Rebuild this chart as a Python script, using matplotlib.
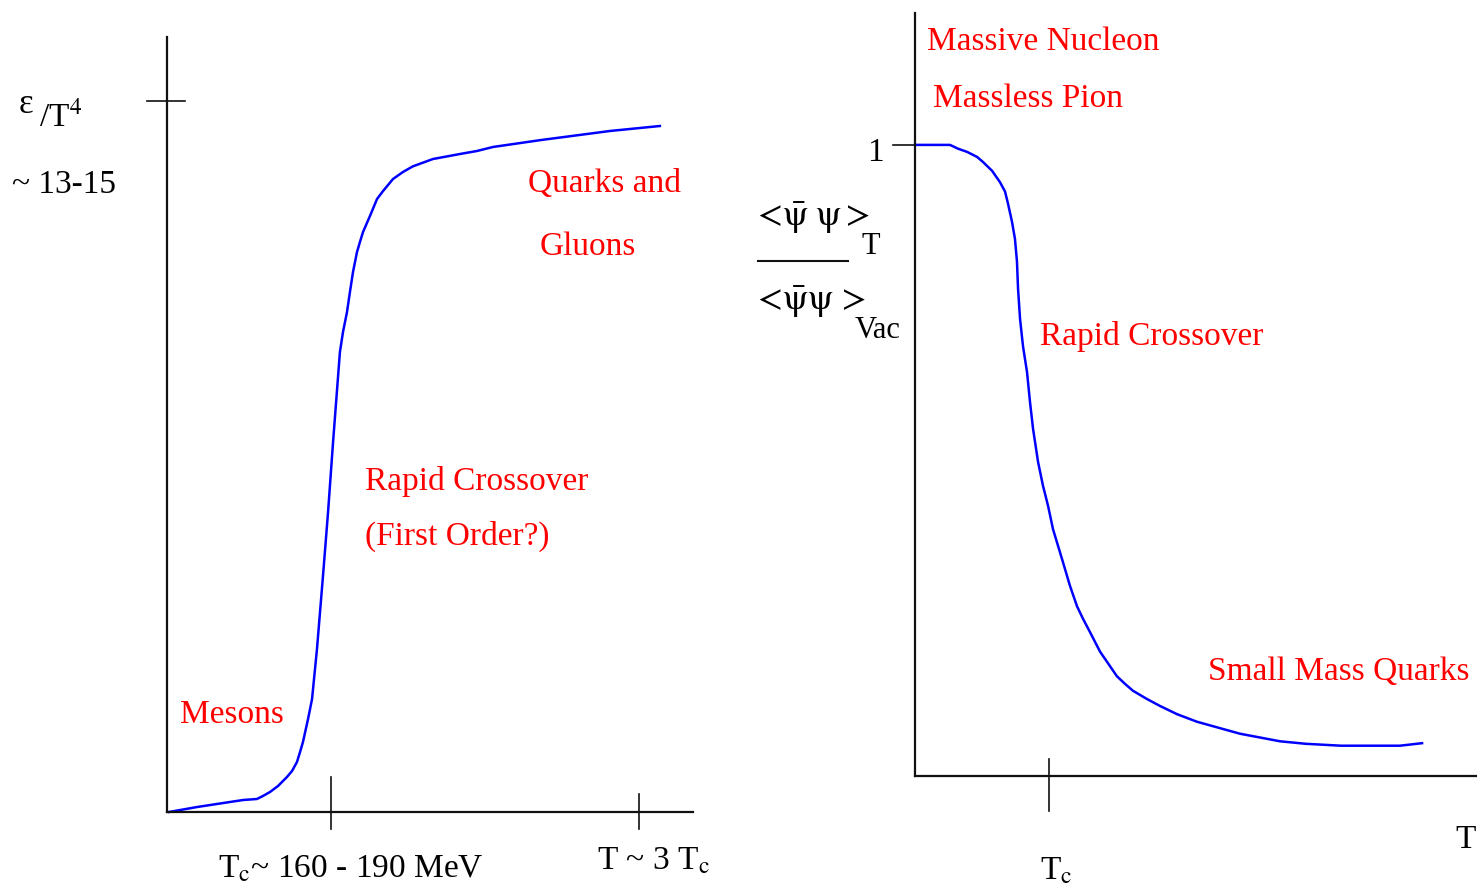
import numpy as np
import matplotlib
matplotlib.use("Agg")
import matplotlib.pyplot as plt

plt.rcParams['font.family'] = ['Liberation Serif', 'DejaVu Serif']
plt.rcParams['mathtext.fontset'] = 'stix'

# left panel: energy density eps/T^4 against T/Tc
left_T = [-0.052, 0.130, 0.344, 0.429, 0.519, 0.558, 0.604, 0.656, 0.714, 0.747,
          0.779, 0.799, 0.818, 0.851, 0.877, 0.909, 0.948, 0.981, 1.013,
          1.058, 1.078, 1.104, 1.123, 1.143, 1.169, 1.188, 1.208, 1.253, 1.299,
          1.338, 1.403, 1.468, 1.532, 1.662, 1.838, 1.948, 2.052,
          2.364, 2.812, 3.136]
left_eps = [0.0, 0.098, 0.197, 0.236, 0.256, 0.315, 0.394, 0.512, 0.689, 0.807,
            0.984, 1.181, 1.378, 1.831, 2.224, 3.209, 4.646, 5.906, 7.264,
            9.055, 9.449, 9.843, 10.236, 10.630, 11.024, 11.220, 11.417, 11.732, 12.067,
            12.224, 12.461, 12.600, 12.710, 12.854, 12.953, 13.012, 13.091,
            13.228, 13.406, 13.504]
left_xticks = [1.0, 3.0]
left_ytick = 14.0

# right panel: chiral condensate ratio against T/Tc
right_T = [0.0, 0.261, 0.321, 0.388, 0.463, 0.507, 0.575, 0.634, 0.672, 0.694,
           0.724, 0.746, 0.761, 0.769, 0.784, 0.806, 0.836, 0.858, 0.881, 0.896,
           0.918, 0.955, 0.993, 1.030, 1.067, 1.104, 1.157, 1.209, 1.254, 1.306,
           1.381, 1.507, 1.567, 1.627, 1.731, 1.828, 1.955, 2.104, 2.425,
           2.724, 2.918, 3.179, 3.619, 3.784]
right_cond = [1.000, 1.000, 0.994, 0.989, 0.981, 0.973, 0.959, 0.941, 0.926, 0.907,
              0.878, 0.851, 0.815, 0.772, 0.724, 0.681, 0.640, 0.593, 0.550, 0.529,
              0.498, 0.460, 0.428, 0.391, 0.365, 0.339, 0.301, 0.269, 0.249, 0.228,
              0.197, 0.158, 0.146, 0.135, 0.122, 0.111, 0.098, 0.086, 0.067,
              0.055, 0.051, 0.048, 0.048, 0.052]
right_xtick = 1.0
right_ytick = 1.0

W, H = 1477, 895
fig = plt.figure(figsize=(W / 100, H / 100), dpi=100)

axL = fig.add_axes([167 / W, (H - 813) / H, (693 - 167) / W, (813 - 38) / H])
axR = fig.add_axes([915 / W, (H - 777) / H, (1477 - 915) / W, (777 - 14) / H])

for ax in (axL, axR):
    ax.set_facecolor('none')
    for s in ('top', 'right'):
        ax.spines[s].set_visible(False)
    for s in ('left', 'bottom'):
        ax.spines[s].set_linewidth(1.6)
        ax.spines[s].set_color('#111111')
    ax.set_xticks([])
    ax.set_yticks([])

axL.set_xlim(-0.065, 3.351)
axL.set_ylim(0, 15.256)
axR.set_xlim(0, 4.194)
axR.set_ylim(0, 1.209)

axL.plot(left_T, left_eps, color='#0000ff', lw=1.8, clip_on=False)
axR.plot(right_T, right_cond, color='#0000ff', lw=1.8, clip_on=False)

# hand-drawn style ticks crossing the axes
tk = dict(color='#111111', lw=1.2, clip_on=False)
axL.axhline(left_ytick, xmin=-20 / 526, xmax=18 / 526, **tk)
axL.axvline(left_xticks[0], ymin=-17 / 775, ymax=35 / 775, **tk)
axL.axvline(left_xticks[1], ymin=-17 / 775, ymax=18 / 775, **tk)
axR.axhline(right_ytick, xmin=-22 / 562, xmax=0, **tk)
axR.axvline(right_xtick, ymin=-35 / 763, ymax=17 / 763, **tk)


def label(px, py, s, size=24, color='red', **kw):
    fig.text(px / W, 1 - py / H, s, fontsize=size, color=color,
             va='baseline', ha=kw.pop('ha', 'left'), **kw)


# left panel texts
label(19, 113, 'ε', size=25, color='black')
label(39, 126, '/T$^4$', color='black')
label(12, 193, '~ 13-15', color='black')
label(528, 192, 'Quarks and')
label(540, 255, 'Gluons')
label(365, 490, 'Rapid Crossover')
label(365, 545, '(First Order?)')
label(180, 723, 'Mesons')
label(218, 878, r'T$_{\mathrm{c}}$~ 160 - 190 MeV', color='black')
label(597, 870, r'T ~ 3 T$_{\mathrm{c}}$', color='black')

# right panel texts
label(927, 50, 'Massive Nucleon')
label(933, 107, 'Massless Pion')
label(884, 161, '1', color='black', ha='right')
label(1040, 345, 'Rapid Crossover')
label(1208, 680, 'Small Mass Quarks')
label(1455, 848, 'T', color='black')
label(1040, 880, r'T$_{\mathrm{c}}$', color='black')

# condensate ratio label
label(752, 226, r'$\mathrm{<\!\bar{\psi}\;\psi\,\!>}$', size=26, color='black')
label(861, 254, 'T', size=22, color='black')
label(752, 310, r'$\mathrm{<\!\bar{\psi}\psi\;\!>}$', size=26, color='black')
label(855, 338, 'Vac', size=22, color='black')
axR.plot([-157 / 134, -67 / 134], [(777 - 262) / 631] * 2, color='#111111', lw=1.5,
         clip_on=False)

fig.savefig('out.png', dpi=100, facecolor='white')
